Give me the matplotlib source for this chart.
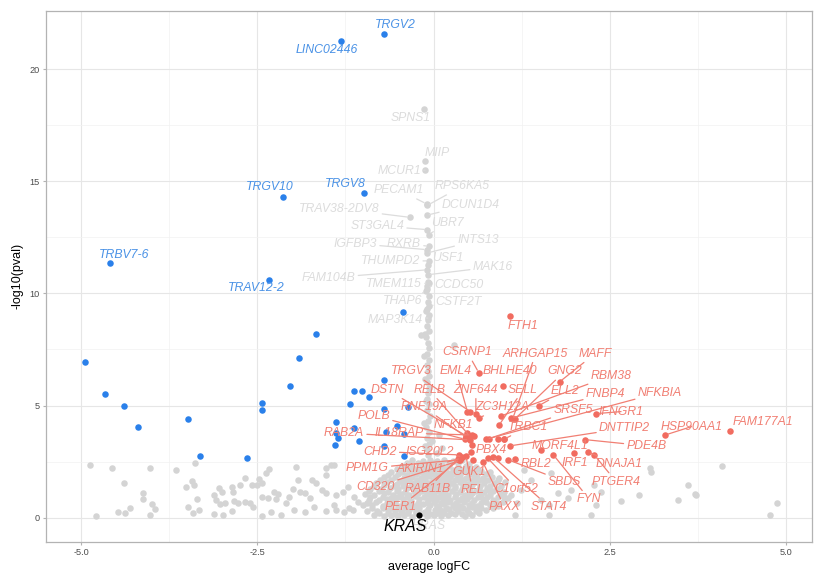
import numpy as np
import matplotlib.pyplot as plt

plt.rcParams["font.family"] = ["Liberation Sans", "DejaVu Sans"]

# labelled down-regulated genes (blue)
down_genes = ["TRGV2", "LINC02446", "TRGV10", "TRGV8", "TRBV7-6", "TRAV12-2"]
down_x = [-0.71, -1.32, -2.14, -0.99, -4.59, -2.34]
down_y = [21.55, 21.27, 14.31, 14.49, 11.36, 10.60]
down_tx = [-0.54, -1.51, -2.32, -1.25, -4.39, -2.51]
down_ty = [21.95, 20.83, 14.73, 14.88, 11.73, 10.24]

# other down-regulated genes (blue, no label)
down_other_x = [-4.94, -4.66, -4.40, -4.19, -3.48, -3.31, -2.65, -2.44, -2.44, -2.04,
                -1.91, -1.67, -0.43, -0.70, -1.13, -1.02, -0.92, -1.19, -0.70, -1.39,
                -1.13, -0.52, -1.39, -1.35, -1.06, -0.67, -1.40, -0.70, -0.42, -0.37,
                -0.42]
down_other_y = [6.96, 5.52, 5.00, 4.06, 4.39, 2.77, 2.65, 5.13, 4.81, 5.89,
                7.13, 8.19, 9.15, 6.15, 5.66, 5.66, 5.38, 5.06, 4.85, 4.26,
                3.99, 4.09, 3.79, 3.57, 3.44, 3.84, 3.25, 3.21, 2.77, 4.93,
                3.72]

# labelled up-regulated genes (red)
up_genes = ["FTH1", "CSRNP1", "ARHGAP15", "MAFF", "TRGV3", "EML4", "BHLHE40", "GNG2",
            "RBM38", "DSTN", "RELB", "ZNF644", "SELL", "ELL2", "FNBP4", "NFKBIA",
            "RNF19A", "ZC3H12A", "SRSF5", "IFNGR1", "POLB", "NFKB1", "TRBC1", "RAB2A",
            "IL18RAP", "DNTTIP2", "HSP90AA1", "FAM177A1", "CHD2", "ISG20L2", "PBX4",
            "MORF4L1", "PDE4B", "PPM1G", "AKIRIN1", "GUK1", "RBL2", "IRF1", "DNAJA1",
            "CD320", "RAB11B", "REL", "C1orf52", "SBDS", "PTGER4", "FYN", "PER1",
            "PAXX", "STAT4"]
up_x = [1.08, 0.64, 1.12, 1.79, 0.52, 0.48, 0.99, 1.15,
        0.96, 0.48, 0.51, 0.60, 0.93, 1.49, 1.10, 0.75,
        0.46, 0.64, 0.78, 2.31, 0.44, 0.48, 1.00, 0.51,
        0.54, 1.08, 3.29, 4.21, 0.36, 0.41, 0.53,
        1.53, 2.15, 0.36, 0.39, 0.56, 1.15, 1.99, 2.19,
        0.38, 0.34, 0.46, 0.77, 1.06, 2.28, 1.70, 0.37,
        0.70, 0.84]
up_y = [9.00, 6.47, 4.39, 6.06, 4.73, 4.73, 5.88, 4.39,
        4.54, 3.62, 3.65, 4.62, 4.13, 4.99, 4.44, 3.50,
        3.60, 4.44, 3.52, 4.64, 3.50, 3.77, 3.50, 3.47,
        3.69, 3.20, 3.69, 3.88, 2.80, 2.72, 2.95,
        3.02, 3.48, 2.58, 2.65, 2.58, 2.60, 2.87, 2.92,
        2.55, 2.62, 2.75, 2.65, 2.58, 2.80, 2.80, 2.60,
        2.47, 2.72]
up_tx = [1.27, 0.48, 1.45, 2.29, -0.32, 0.32, 1.08, 1.86,
         2.52, -0.66, -0.06, 0.60, 1.27, 1.86, 2.44, 3.21,
         -0.14, 0.98, 1.98, 2.66, -0.85, 0.28, 1.34, -1.27,
         -0.49, 2.71, 3.66, 4.68, -0.76, -0.06, 0.82,
         1.79, 3.02, -0.94, -0.18, 0.51, 1.46, 2.00, 2.64,
         -0.82, -0.09, 0.55, 1.18, 1.86, 2.59, 2.21, -0.47,
         1.01, 1.64]
up_ty = [8.56, 7.37, 7.31, 7.31, 6.52, 6.52, 6.52, 6.52,
         6.33, 5.70, 5.70, 5.70, 5.70, 5.63, 5.52, 5.58,
         4.93, 4.93, 4.78, 4.73, 4.55, 4.14, 4.04, 3.77,
         3.77, 3.99, 4.06, 4.26, 2.95, 2.95, 3.02,
         3.21, 3.20, 2.20, 2.16, 2.05, 2.40, 2.43, 2.38,
         1.38, 1.27, 1.24, 1.28, 1.61, 1.61, 0.82, 0.49,
         0.46, 0.49]

up_other_x = [0.91, 0.55, 0.58, 0.46, 1.00, 0.91]
up_other_y = [2.65, 3.25, 3.65, 3.62, 3.50, 3.50]

# labelled non-significant genes (grey)
ns_genes = ["SPNS1", "MIIP", "MCUR1", "PECAM1", "RPS6KA5", "DCUN1D4", "TRAV38-2DV8",
            "ST3GAL4", "UBR7", "IGFBP3", "RXRB", "INTS13", "THUMPD2", "USF1",
            "FAM104B", "MAK16", "TMEM115", "CCDC50", "THAP6", "CSTF2T", "MAP3K14", "HRAS"]
ns_lx = [-0.14, -0.12, -0.12, -0.10, -0.09, -0.10, -0.34,
         -0.09, -0.07, -0.10, -0.07, -0.09, -0.06, -0.08,
         -0.09, -0.08, -0.07, -0.09, -0.11, -0.06, -0.08, 0.00]
ns_ly = [18.24, 15.92, 15.49, 13.99, 13.92, 13.48, 13.39,
         12.84, 12.62, 11.95, 12.10, 11.80, 11.45, 11.28,
         11.05, 10.83, 10.45, 10.31, 10.09, 9.45, 8.90, 0.15]
ns_tx = [-0.32, 0.05, -0.49, -0.49, 0.41, 0.53, -1.34,
         -0.80, 0.20, -1.11, -0.42, 0.63, -0.61, 0.20,
         -1.49, 0.84, -0.56, 0.36, -0.44, 0.36, -0.54, -0.07]
ns_ty = [17.83, 16.27, 15.45, 14.60, 14.78, 13.96, 13.78,
         13.02, 13.14, 12.22, 12.22, 12.37, 11.43, 11.58,
         10.69, 11.18, 10.43, 10.39, 9.64, 9.60, 8.83, -0.36]

# non-significant genes, left scatter
ns_left_x = [-4.88, -4.56, -4.39, -4.03, -4.12, -4.13, -4.00, -3.95, -4.03, -4.31,
             -4.38, -4.48, -4.79, -3.65, -3.39, -3.43, -3.40, -3.52, -3.36, -3.49,
             -3.33, -3.41, -3.12, -3.04, -3.00, -3.09, -3.03, -2.96, -3.12, -2.99,
             -2.86, -2.84, -2.74, -2.67, -2.83, -2.77, -2.68, -2.60, -2.56, -2.86,
             -2.58, -2.51, -2.48, -2.44, -2.38, -2.34, -2.43, -2.35, -2.27, -2.24,
             -2.21, -2.10, -2.05, -2.00, -1.93, -1.95, -1.89, -1.82, -1.75, -1.72,
             -1.67, -1.69, -1.58, -1.52, -1.52, -1.46, -1.41, -1.53, -1.41, -1.39,
             -1.28, -1.21, -1.20, -1.13, -1.07, -1.98, -2.17, -2.31, -2.43, -1.82,
             -1.53, -1.39, -1.27, -1.15]
ns_left_y = [2.35, 2.20, 1.56, 2.23, 1.09, 0.83, 0.60, 0.37, 0.12, 0.45,
             0.20, 0.24, 0.08, 2.13, 2.43, 1.65, 1.46, 1.38, 0.82, 0.49,
             0.34, 0.22, 1.01, 1.34, 1.16, 0.79, 0.60, 0.67, 0.17, 0.12,
             1.38, 1.16, 1.46, 1.76, 0.75, 0.67, 0.71, 0.67, 0.49, 0.30,
             1.46, 1.46, 1.71, 1.54, 2.01, 2.16, 0.94, 0.87, 1.16, 0.82,
             1.04, 0.67, 0.94, 1.27, 1.68, 2.28, 1.16, 1.09, 0.87, 1.68,
             1.54, 0.49, 1.24, 1.91, 2.20, 2.35, 2.35, 1.09, 0.57, 1.01,
             1.16, 1.38, 0.42, 0.94, 0.71, 0.34, 0.12, 0.27, 0.08, 0.27,
             0.31, 0.34, 0.27, 0.34]

# non-significant genes, right scatter
ns_right_x = [4.09, 4.87, 4.77, 3.71, 3.61, 3.47, 2.92, 2.66, 3.07, 3.09,
              2.38, 2.28, 2.31, 2.24, 1.95, 1.91, 1.76, 1.64, 1.64, 1.67,
              1.53, 1.38, 1.29, 1.24, 1.19, 1.15, 0.93, 1.00, 0.77, 3.72]
ns_right_y = [2.32, 0.67, 0.12, 1.06, 1.46, 0.79, 1.01, 0.75, 2.20, 2.05,
              1.16, 1.46, 0.57, 0.12, 1.24, 0.87, 1.09, 0.57, 0.12, 1.98,
              0.79, 1.68, 2.13, 1.24, 0.64, 0.12, 1.76, 0.94, 1.24, 0.99]

# non-significant genes, dense cloud around zero
ns_mid_x = [-0.85, -0.70, -0.60, -0.50, -0.42, -0.30, -0.20, -0.10, 0.00, 0.10, 0.20, 0.30, 0.45, 0.55,
            -0.95, -0.80, -0.65, -0.55, -0.45, -0.35, -0.25, -0.12, 0.02, 0.12, 0.22, 0.35, 0.48, 0.60, 0.75,
            -1.00, -0.88, -0.72, -0.60, -0.50, -0.38, -0.28, -0.15, -0.05, 0.05, 0.15, 0.27, 0.38, 0.50, 0.62, 0.80, 0.92,
            -0.92, -0.78, -0.66, -0.55, -0.43, -0.32, -0.20, -0.08, 0.03, 0.13, 0.24, 0.36, 0.47, 0.58, 0.70, 0.85, 1.00,
            -0.98, -0.85, -0.70, -0.58, -0.46, -0.35, -0.22, -0.10, 0.00, 0.10, 0.20, 0.32, 0.44, 0.55, 0.67, 0.80, 0.95, 1.10,
            -0.90, -0.75, -0.62, -0.50, -0.38, -0.26, -0.14, -0.04, 0.07, 0.18, 0.30, 0.41, 0.52, 0.64, 0.76, 0.90,
            -0.82, -0.66, -0.52, -0.40, -0.28, -0.16, -0.06, 0.05, 0.15, 0.26, 0.37, 0.48, 0.60, 0.72, 0.86, 1.02,
            -0.70, -0.55, -0.42, -0.30, -0.18, -0.07, 0.03, 0.13, 0.24, 0.35, 0.46, 0.58, 0.70, 0.83,
            -0.60, -0.45, -0.32, -0.20, -0.10, 0.00, 0.10, 0.21, 0.32, 0.43, 0.55, 0.67, 0.80,
            -0.45, -0.30, -0.18, -0.08, 0.02, 0.12, 0.22, 0.34, 0.46, 0.60,
            -0.30, -0.15, -0.05, 0.05, 0.15, 0.28, 0.40]
ns_mid_y = [0.10, 0.06, 0.14, 0.08, 0.12, 0.05, 0.15, 0.09, 0.13, 0.07, 0.11, 0.16, 0.08, 0.12,
            0.32, 0.28, 0.35, 0.30, 0.26, 0.36, 0.31, 0.27, 0.34, 0.29, 0.37, 0.30, 0.33, 0.28, 0.35,
            0.55, 0.58, 0.52, 0.60, 0.54, 0.57, 0.51, 0.59, 0.55, 0.53, 0.60, 0.56, 0.52, 0.58, 0.54, 0.57, 0.52,
            0.80, 0.77, 0.83, 0.79, 0.82, 0.76, 0.84, 0.78, 0.81, 0.85, 0.77, 0.80, 0.83, 0.78, 0.82, 0.79, 0.76,
            1.05, 1.02, 1.08, 1.01, 1.06, 1.03, 1.09, 1.04, 1.00, 1.07, 1.03, 1.06, 1.01, 1.08, 1.04, 1.02, 1.07, 1.03,
            1.30, 1.27, 1.33, 1.29, 1.32, 1.26, 1.31, 1.34, 1.28, 1.30, 1.33, 1.27, 1.31, 1.29, 1.34, 1.28,
            1.55, 1.58, 1.52, 1.57, 1.54, 1.59, 1.53, 1.56, 1.60, 1.54, 1.57, 1.52, 1.58, 1.55, 1.53, 1.57,
            1.80, 1.83, 1.78, 1.82, 1.79, 1.84, 1.81, 1.77, 1.83, 1.80, 1.78, 1.82, 1.79, 1.81,
            2.05, 2.02, 2.07, 2.04, 2.08, 2.03, 2.06, 2.01, 2.05, 2.08, 2.03, 2.06, 2.02,
            2.30, 2.27, 2.32, 2.28, 2.33, 2.29, 2.31, 2.26, 2.30, 2.28,
            2.55, 2.52, 2.58, 2.54, 2.57, 2.53, 2.56]

# more of the cloud, lying between the rows above
ns_mid2_x = [-0.78, -0.65, -0.55, -0.46, -0.36, -0.25, -0.15, -0.05, 0.05, 0.15, 0.25, 0.40, 0.50, 0.65,
             -0.88, -0.72, -0.60, -0.50, -0.40, -0.30, -0.20, -0.08, 0.08, 0.18, 0.30, 0.42, 0.55, 0.68, 0.85,
             -0.95, -0.82, -0.66, -0.55, -0.44, -0.33, -0.22, -0.10, 0.00, 0.10, 0.20, 0.32, 0.43, 0.55, 0.67, 0.75, 0.88, 0.98,
             -0.90, -0.72, -0.60, -0.50, -0.38, -0.26, -0.14, -0.03, 0.08, 0.18, 0.30, 0.41, 0.52, 0.63, 0.76, 0.92, 1.06,
             -0.92, -0.78, -0.64, -0.52, -0.40, -0.28, -0.16, -0.05, 0.04, 0.15, 0.26, 0.38, 0.50, 0.60, 0.72, 0.85, 1.00,
             -0.85, -0.70, -0.56, -0.44, -0.32, -0.20, -0.10, 0.00, 0.10, 0.20, 0.31, 0.42, 0.54, 0.66, 0.80, 0.95,
             -0.76, -0.60, -0.47, -0.35, -0.23, -0.12, -0.01, 0.09, 0.20, 0.30, 0.42, 0.53, 0.65, 0.77, 0.92,
             -0.65, -0.50, -0.38, -0.25, -0.14, -0.04, 0.06, 0.16, 0.27, 0.38, 0.50, 0.62, 0.74,
             -0.52, -0.38, -0.25, -0.14, -0.04, 0.06, 0.16, 0.27, 0.38, 0.50, 0.62,
             -0.38, -0.22, -0.10, 0.00, 0.10, 0.22, 0.34, 0.50]
ns_mid2_y = [0.20, 0.22, 0.18, 0.21, 0.19, 0.23, 0.20, 0.17, 0.22, 0.19, 0.21, 0.18, 0.23, 0.20,
             0.43, 0.45, 0.41, 0.44, 0.42, 0.46, 0.43, 0.40, 0.45, 0.42, 0.44, 0.41, 0.46, 0.43, 0.42,
             0.67, 0.69, 0.65, 0.68, 0.66, 0.70, 0.67, 0.64, 0.69, 0.66, 0.68, 0.65, 0.70, 0.67, 0.66, 0.68, 0.65, 0.69,
             0.92, 0.94, 0.90, 0.93, 0.91, 0.95, 0.92, 0.89, 0.94, 0.91, 0.93, 0.90, 0.95, 0.92, 0.91, 0.93, 0.90,
             1.17, 1.19, 1.15, 1.18, 1.16, 1.20, 1.17, 1.14, 1.19, 1.16, 1.18, 1.15, 1.20, 1.17, 1.16, 1.18, 1.15,
             1.42, 1.44, 1.40, 1.43, 1.41, 1.45, 1.42, 1.39, 1.44, 1.41, 1.43, 1.40, 1.45, 1.42, 1.41, 1.43,
             1.67, 1.69, 1.65, 1.68, 1.66, 1.70, 1.67, 1.64, 1.69, 1.66, 1.68, 1.65, 1.70, 1.67, 1.66,
             1.92, 1.94, 1.90, 1.93, 1.91, 1.95, 1.92, 1.89, 1.94, 1.91, 1.93, 1.90, 1.95,
             2.17, 2.19, 2.15, 2.18, 2.16, 2.20, 2.17, 2.14, 2.19, 2.16, 2.18,
             2.42, 2.44, 2.40, 2.43, 2.41, 2.45, 2.42, 2.39]

# non-significant genes, narrow column above the cloud
ns_col_x = [-0.08, -0.10, -0.06, -0.09, -0.07, -0.11, -0.08, -0.05, -0.09, -0.07,
            -0.10, -0.08, -0.06, -0.09, -0.07, -0.08, -0.10, -0.06, -0.09, -0.07,
            -0.08, -0.11, -0.07, -0.09, -0.08, -0.06, -0.10, -0.08, -0.07, -0.09,
            -0.08, -0.12, -0.13, -0.11, -0.12, -0.13, -0.12, -0.11, -0.18, 0.29,
            0.05, 0.12, -0.02, 0.08]
ns_col_y = [2.80, 3.05, 3.30, 3.55, 3.80, 4.05, 4.30, 4.55, 4.80, 5.05,
            5.30, 5.55, 5.80, 6.05, 6.30, 6.55, 6.80, 7.05, 7.30, 7.55,
            7.80, 8.05, 8.30, 8.55, 8.80, 9.05, 9.30, 9.60, 9.90, 10.20,
            10.50, 3.20, 4.20, 5.20, 6.20, 7.20, 8.20, 9.20, 8.15, 7.71,
            2.90, 3.10, 3.40, 3.70]

kras_x, kras_y = -0.20, 0.12
kras_tx, kras_ty = -0.40, -0.40

BLUE = "#2a80ea"
BLUE_TXT = "#4a92e6"
RED = "#f16c60"
RED_TXT = "#f17f73"
GREY = "#d4d4d4"
GREY_TXT = "#dcdcdc"

fig = plt.figure(figsize=(8.14, 5.77), dpi=100)
ax = fig.add_axes([46 / 814, 35.3 / 577, (812 - 46) / 814, 531 / 577])
ax.set_xlim(-5.5, 5.37)
ax.set_ylim(-1.07, 22.6)

ax.set_xticks([-5, -2.5, 0, 2.5, 5])
ax.set_xticklabels(["-5.0", "-2.5", "0.0", "2.5", "5.0"])
ax.set_yticks([0, 5, 10, 15, 20])
ax.set_xticks([-3.75, -1.25, 1.25, 3.75], minor=True)
ax.set_yticks([2.5, 7.5, 12.5, 17.5], minor=True)
ax.grid(True, which="major", color="#e6e6e6", lw=0.8)
ax.grid(True, which="minor", color="#f2f2f2", lw=0.5)
ax.set_axisbelow(True)
for s in ax.spines.values():
    s.set_color("#b3b3b3")
    s.set_linewidth(0.9)
ax.tick_params(which="major", length=2.5, color="#b3b3b3", labelsize=6.6,
               labelcolor="#4d4d4d", pad=2)
ax.tick_params(which="minor", length=0)
ax.set_xlabel("average logFC", fontsize=9, labelpad=3)
ax.set_ylabel("-log10(pval)", fontsize=9, labelpad=4)

ns_x = ns_left_x + ns_mid_x + ns_mid2_x + ns_col_x + ns_right_x + ns_lx
ns_y = ns_left_y + ns_mid_y + ns_mid2_y + ns_col_y + ns_right_y + ns_ly
ax.scatter(ns_x, ns_y, s=22, color=GREY, lw=0, zorder=2)

fig.canvas.draw()


def label(txt, x, y, tx, ty, col, size=8.8, z=3):
    p = ax.transData.transform([(x, y), (tx, ty)])
    far = np.hypot(*(p[1] - p[0])) > 22
    props = dict(arrowstyle="-", color=col, lw=0.9, shrinkA=0, shrinkB=2) if far else None
    ax.annotate(txt, xy=(x, y), xytext=(tx, ty), ha="center", va="center",
                fontsize=size, style="italic", color=col, arrowprops=props, zorder=z)


for g, x, y, tx, ty in zip(ns_genes, ns_lx, ns_ly, ns_tx, ns_ty):
    label(g, x, y, tx, ty, GREY_TXT, z=2.5)

ax.scatter(down_x + down_other_x, down_y + down_other_y, s=22, color=BLUE, lw=0, zorder=3)
ax.scatter(up_x + up_other_x, up_y + up_other_y, s=22, color=RED, lw=0, zorder=3)

for g, x, y, tx, ty in zip(down_genes, down_x, down_y, down_tx, down_ty):
    label(g, x, y, tx, ty, BLUE_TXT, z=4)
for g, x, y, tx, ty in zip(up_genes, up_x, up_y, up_tx, up_ty):
    label(g, x, y, tx, ty, RED_TXT, z=4)

ax.scatter([kras_x], [kras_y], s=20, color="black", lw=0, zorder=5)
ax.text(kras_tx, kras_ty, "KRAS", ha="center", va="center", fontsize=11.4,
        style="italic", color="black", zorder=5)

fig.savefig("out.png", dpi=100)
